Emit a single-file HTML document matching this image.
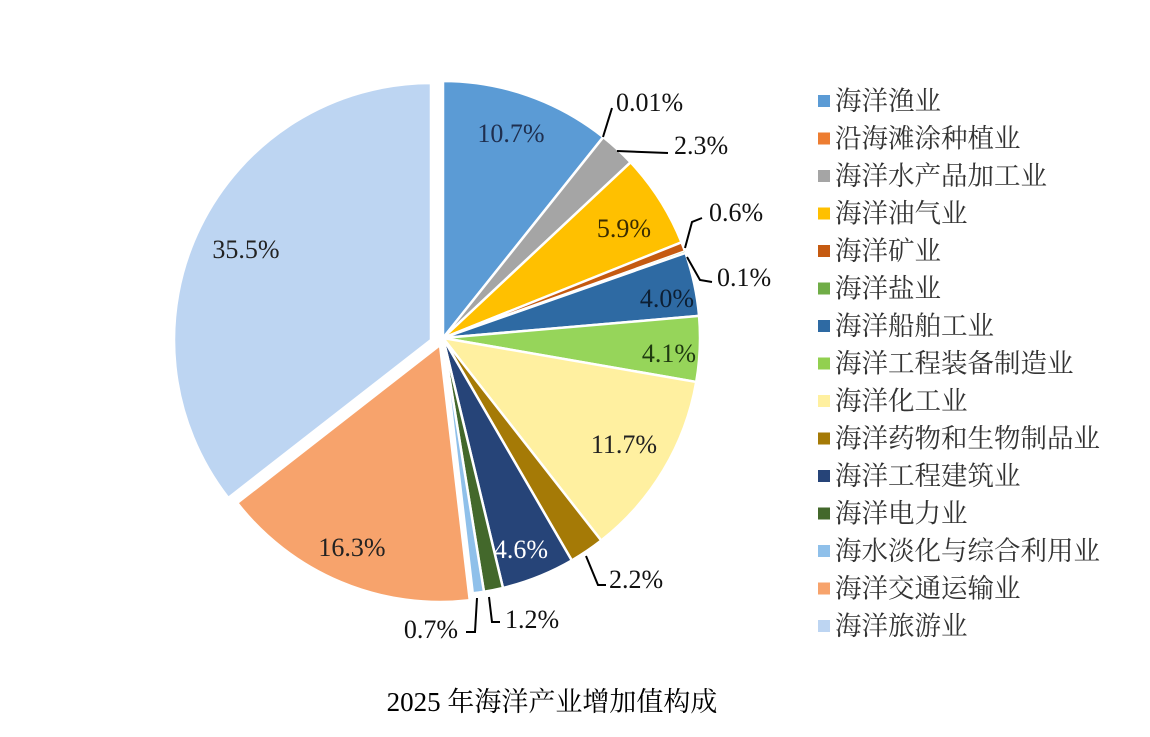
<!DOCTYPE html>
<html><head><meta charset="utf-8">
<style>
html,body{margin:0;padding:0;background:#fff;}
body{width:1150px;height:732px;overflow:hidden;}
svg text{font-family:"Liberation Serif","Noto Serif CJK SC",serif;}
</style></head>
<body>
<svg id="s" width="1150" height="732" xmlns="http://www.w3.org/2000/svg">
<g id="pie"></g>
<g fill="none" stroke="#000" stroke-width="2">
<polyline points="603,137 612,108"/>
<polyline points="617,151 668,153"/>
<polyline points="685,248 692,222 702,218"/>
<polyline points="687,257 700,280 712,282"/>
<polyline points="586,556 598,585 606,585"/>
<polyline points="489,597 492,622 500,622"/>
<polyline points="477,598 475,632 466,632"/>
</g>
<g font-size="26" fill="#111">
<text x="616" y="111">0.01%</text>
<text x="674" y="154">2.3%</text>
<text x="709" y="221">0.6%</text>
<text x="717" y="286">0.1%</text>
<text x="609" y="588">2.2%</text>
<text x="505" y="628">1.2%</text>
<text x="458" y="638" text-anchor="end">0.7%</text>
</g>
<g font-size="26" text-anchor="middle">
<text x="511" y="142" fill="#1f2f4f">10.7%</text>
<text x="624" y="237" fill="#3a2c00">5.9%</text>
<text x="667" y="307" fill="#0d1f33">4.0%</text>
<text x="669" y="362" fill="#1f3a10">4.1%</text>
<text x="624" y="453" fill="#222">11.7%</text>
<text x="521" y="558" fill="#fff">4.6%</text>
<text x="352" y="556" fill="#222">16.3%</text>
<text x="246" y="258" fill="#222">35.5%</text>
</g>
<g id="leg" font-size="26.5" fill="#333"></g>
<text x="552" y="711" font-size="27" text-anchor="middle" fill="#000">2025 年海洋产业增加值构成</text>
</svg>
<script>
var data=[[10.7,"#5B9BD5"],[0.01,"#ED7D31"],[2.3,"#A5A5A5"],[5.9,"#FFC000"],[0.6,"#C55A11"],[0.1,"#70AD47"],[4.0,"#2E6AA3"],[4.1,"#96D55A"],[11.7,"#FFF0A0"],[2.2,"#A57A06"],[4.6,"#264478"],[1.2,"#43682B"],[0.7,"#8FC0EA"],[16.3,"#F7A36C"],[35.5,"#BDD5F2"]];
var tot=0;data.forEach(d=>tot+=d[0]);
var cx=443,cy=338,r=257,a=0,g=document.getElementById('pie'),h='';
data.forEach((d,i)=>{var a0=a,a1=a+d[0]/tot*2*Math.PI;a=a1;
var ox=cx,oy=cy;if(i==14){ox=cx-12;oy=cy+2;}if(i==13){ox=cx-3;oy=cy+7;}
var x0=ox+r*Math.sin(a0),y0=oy-r*Math.cos(a0),x1=ox+r*Math.sin(a1),y1=oy-r*Math.cos(a1);
var la=(a1-a0)>Math.PI?1:0;
h+='<path d="M'+ox+','+oy+'L'+x0+','+y0+'A'+r+','+r+' 0 '+la+' 1 '+x1+','+y1+'Z" fill="'+d[1]+'" stroke="#fff" stroke-width="'+(d[0]<0.5?0.5:2.5)+'" stroke-linejoin="round"/>';});
g.innerHTML=h;
var names=["海洋渔业","沿海滩涂种植业","海洋水产品加工业","海洋油气业","海洋矿业","海洋盐业","海洋船舶工业","海洋工程装备制造业","海洋化工业","海洋药物和生物制品业","海洋工程建筑业","海洋电力业","海水淡化与综合利用业","海洋交通运输业","海洋旅游业"];
var lc=["#5B9BD5","#ED7D31","#A5A5A5","#FFC000","#C55A11","#70AD47","#2E6AA3","#92D050","#FFF0A0","#A57A06","#264478","#43682B","#8FC0EA","#F7A36C","#BDD5F2"];
var lh='';names.forEach((n,i)=>{var y=101+i*37.5;lh+='<rect x="818" y="'+(y-6)+'" width="12" height="12" fill="'+lc[i]+'"/><text x="835" y="'+(y+9)+'">'+n+'</text>';});
document.getElementById('leg').innerHTML=lh;
</script>
</body></html>
